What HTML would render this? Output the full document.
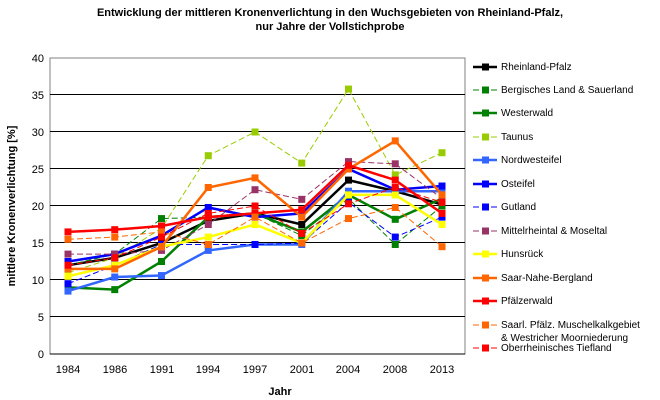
<!DOCTYPE html>
<html><head><meta charset="utf-8"><style>body{margin:0;background:#fff}svg{display:block;font-family:"Liberation Sans",sans-serif}</style></head><body>
<svg id="s" width="660" height="400" xmlns="http://www.w3.org/2000/svg">
<rect width="660" height="400" fill="#fff"/>
<text x="330" y="16" text-anchor="middle" font-size="11" font-weight="bold">Entwicklung  der mittleren Kronenverlichtung  in den Wuchsgebieten von Rheinland-Pfalz,</text>
<text x="330" y="30" text-anchor="middle" font-size="11" font-weight="bold">nur Jahre der Vollstichprobe</text>
<rect x="50" y="58" width="415" height="296" fill="none" stroke="#808080"/>
<g stroke="#000" stroke-width="1">
<line x1="50" y1="94.5" x2="465" y2="94.5"/><line x1="50" y1="131.5" x2="465" y2="131.5"/><line x1="50" y1="168.5" x2="465" y2="168.5"/><line x1="50" y1="205.5" x2="465" y2="205.5"/><line x1="50" y1="242.5" x2="465" y2="242.5"/><line x1="50" y1="279.5" x2="465" y2="279.5"/><line x1="50" y1="316.5" x2="465" y2="316.5"/><line x1="50" y1="354" x2="465" y2="354"/>
</g>
<g font-size="11" text-anchor="end">
<text x="44" y="62">40</text><text x="44" y="99">35</text><text x="44" y="136">30</text><text x="44" y="173">25</text><text x="44" y="210">20</text><text x="44" y="247">15</text><text x="44" y="284">10</text><text x="44" y="321">5</text><text x="44" y="358">0</text>
</g>
<g font-size="11" text-anchor="middle">
<text x="68" y="373">1984</text><text x="115" y="373">1986</text><text x="162" y="373">1991</text><text x="208" y="373">1994</text><text x="255" y="373">1997</text><text x="302" y="373">2001</text><text x="348" y="373">2004</text><text x="395" y="373">2008</text><text x="442" y="373">2013</text>
</g>
<text x="280" y="395" text-anchor="middle" font-size="11" font-weight="bold">Jahr</text>
<text transform="translate(15,206) rotate(-90)" text-anchor="middle" font-size="11" font-weight="bold">mittlere Kronenverlichtung [%]</text>
<g id="ser"></g>
<g font-size="10">
<text x="501" y="70">Rheinland-Pfalz</text>
<text x="501" y="93">Bergisches Land &amp; Sauerland</text>
<text x="501" y="116">Westerwald</text>
<text x="501" y="140">Taunus</text>
<text x="501" y="163">Nordwesteifel</text>
<text x="501" y="187">Osteifel</text>
<text x="501" y="210">Gutland</text>
<text x="501" y="234">Mittelrheintal &amp; Moseltal</text>
<text x="501" y="257">Hunsrück</text>
<text x="501" y="281">Saar-Nahe-Bergland</text>
<text x="501" y="304">Pfälzerwald</text>
<text x="501" y="328">Saarl. Pfälz. Muschelkalkgebiet</text>
<text x="501" y="341">&amp; Westricher Moorniederung</text>
<text x="501" y="351">Oberrheinisches Tiefland</text>
</g>
<g id="leg"></g>
</svg>
<script>
var S=[
["#000",0,[12,13,15,18,19,17.5,23.5,22,20.2],67],
["#008000",1,[12,13.5,18.3,18.5,19,16,21,14.8,20],90],
["#008000",0,[9,8.7,12.5,18.5,19,16.5,21.5,18.2,21],113],
["#99cc00",1,[11,13,17,26.8,30,25.8,35.8,24.2,27.2],137],
["#3366ff",0,[8.5,10.4,10.6,14,14.8,14.8,22,22,22],160],
["#0000ff",0,[12.5,13.5,16,19.8,18.5,19,25,22.2,22.7],184],
["#0000ff",1,[9.5,12,14.8,14.8,14.8,15,20.5,15.8,18.5],207],
["#993366",1,[13.5,13.5,14,17.5,22.2,20.9,26,25.7,21],231],
["#ffff00",0,[10.5,12,14.5,15.8,17.5,15,21.5,21.5,17.5],254],
["#ff6600",0,[11.5,11.5,14.5,22.5,23.8,18.5,25,28.8,21.5],278],
["#ff0000",0,[16.5,16.8,17.3,18.5,19,19.5,25.5,23.5,19],301],
["#ff6600",1,[15.5,15.8,16.5,14.8,18.5,15,18.3,19.8,14.5],325],
["#ff0000",1,[12,13,15.8,19,20,16.3,20.3,22.5,20.5],348]];
var ns="http://www.w3.org/2000/svg",g=document.getElementById("ser"),L=document.getElementById("leg");
function el(p,t,a){var e=document.createElementNS(ns,t);for(var k in a)e.setAttribute(k,a[k]);p.appendChild(e);return e;}
S.forEach(function(s){var pts=s[2].map(function(v,i){return [68+46.75*i,354-7.4*v];});
el(g,"polyline",{points:pts.map(function(p){return p.join(",")}).join(" "),fill:"none",stroke:s[0],"stroke-width":s[1]?1:2.5,"stroke-dasharray":s[1]?"6,3":"none"});
pts.forEach(function(p){el(g,"rect",{x:p[0]-3.5,y:p[1]-3.5,width:7,height:7,fill:s[0]});});
el(L,"line",{x1:473,y1:s[3],x2:497,y2:s[3],stroke:s[0],"stroke-width":s[1]?1:2.5,"stroke-dasharray":s[1]?"6,3":"none"});
el(L,"rect",{x:482,y:s[3]-3.5,width:7,height:7,fill:s[0]});});
</script>
</body></html>
